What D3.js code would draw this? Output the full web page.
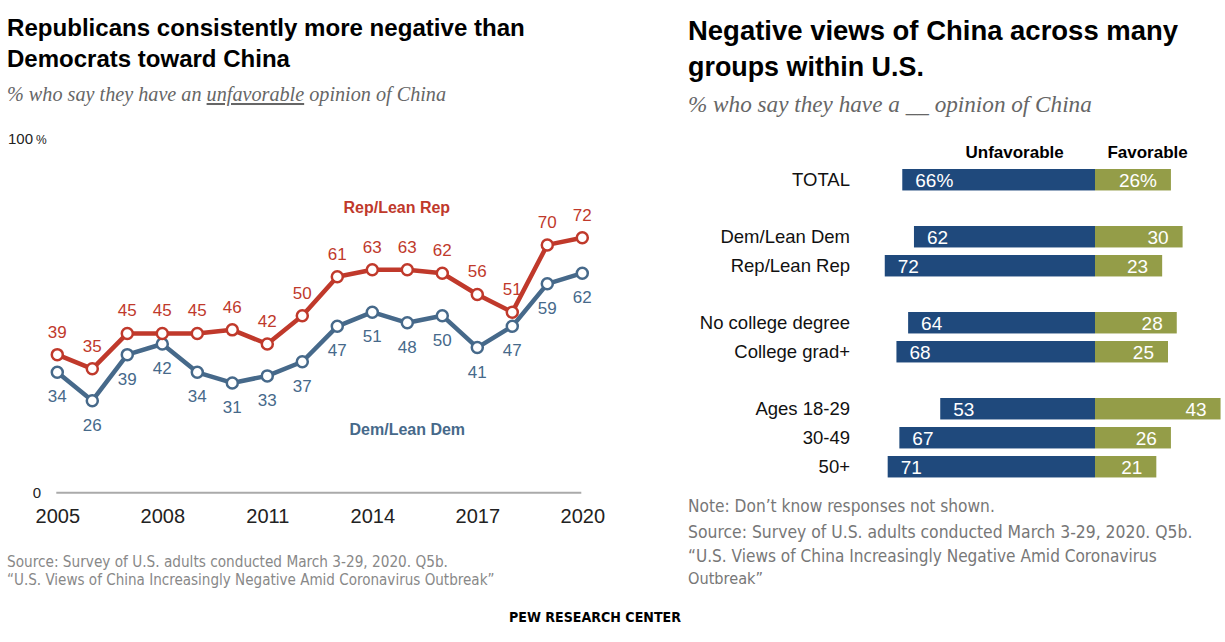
<!DOCTYPE html>
<html>
<head>
<meta charset="utf-8">
<script src="https://cdn.jsdelivr.net/npm/d3@7"></script>
<style>
  body { margin: 0; background: #fff; }
  svg { display: block; }
  text { font-family: "Liberation Sans", Arial, sans-serif; }
  .cond { font-family: "Liberation Sans Narrow", "DejaVu Sans Condensed", "Liberation Sans", sans-serif; }
  .serif { font-family: "Liberation Serif", "DejaVu Serif", serif; font-style: italic; }
</style>
</head>
<body>
<div id="container"></div>
<script>
"use strict"

/* DATA
 */
const years = [2005, 2006, 2007, 2008, 2009, 2010, 2011, 2012,
               2013, 2014, 2015, 2016, 2017, 2018, 2019, 2020];
const repValues = [39, 35, 45, 45, 45, 46, 42, 50, 61, 63, 63, 62, 56, 51, 70, 72];
const demValues = [34, 26, 39, 42, 34, 31, 33, 37, 47, 51, 48, 50, 41, 47, 59, 62];
const yearTicks = [2005, 2008, 2011, 2014, 2017, 2020];

const groups = ["TOTAL", "Dem/Lean Dem", "Rep/Lean Rep", "No college degree",
                "College grad+", "Ages 18-29", "30-49", "50+"];
const groupSet = [0, 1, 1, 2, 2, 3, 3, 3];   // which block each row belongs to
const unfavorable = [66, 62, 72, 64, 68, 53, 67, 71];
const favorable = [26, 30, 23, 28, 25, 43, 26, 21];

const RED = "#c0392b",
    SLATE = "#46698a",
    NAVY = "#1f497c",
    OLIVE = "#949d48";

const W = 1225, H = 642;

const svg = d3.select("#container").append("svg")
    .attr("width", W)
    .attr("height", H);

// scale a text's font size so it spans the width
function fitWidth(sel, w) {
    sel.each(function() {
        const t = d3.select(this);
        const fs = parseFloat(t.attr("font-size"));
        const len = this.getComputedTextLength();
        if (len > 0) t.attr("font-size", (fs * w / len).toFixed(2));
    });
}

function addText(g, x, y, str, opts) {
    const t = g.append("text")
        .attr("x", x)
        .attr("y", y)
        .attr("font-size", opts.size || 14)
        .attr("fill", opts.fill || "#000")
        .text(str);
    if (opts.cls) t.attr("class", opts.cls);
    if (opts.weight) t.attr("font-weight", opts.weight);
    if (opts.anchor) t.attr("text-anchor", opts.anchor);
    if (opts.width) fitWidth(t, opts.width);
    return t;
}

/* LEFT: LINE CHART
 */
const left = svg.append("g");

addText(left, 7, 36, "Republicans consistently more negative than",
        {size: 22, weight: "bold", width: 518});
addText(left, 7, 67, "Democrats toward China",
        {size: 22, weight: "bold", width: 283});

const sub = left.append("text")
    .attr("class", "serif")
    .attr("x", 7)
    .attr("y", 101)
    .attr("font-size", 18)
    .attr("fill", "#666");
sub.append("tspan").text("% who say they have an ");
sub.append("tspan").attr("text-decoration", "underline").text("unfavorable");
sub.append("tspan").text(" opinion of China");
fitWidth(sub, 439);

const x = d3.scaleLinear()
    .domain([2005, 2020])
    .range([57.3, 582.3]);

const y = d3.scaleLinear()
    .domain([0, 100])
    .range([492.7, 138.7]);

// zero baseline
left.append("line")
    .attr("x1", x(2005) - 1)
    .attr("x2", x(2020) - 1)
    .attr("y1", y(0))
    .attr("y2", y(0))
    .attr("stroke", "#aaa")
    .attr("stroke-width", 2);

const xAxis = left.append("g")
    .attr("transform", `translate(0,${y(0)})`)
    .call(d3.axisBottom(x).tickValues(yearTicks).tickSize(0).tickFormat(d3.format("d")));
xAxis.select(".domain").remove();
xAxis.selectAll("text")
    .attr("y", 30)
    .attr("dy", 0)
    .attr("font-size", 20)
    .attr("font-family", "Liberation Sans, Arial, sans-serif")
    .attr("fill", "#222");

const yAxis = left.append("g")
    .attr("transform", "translate(41,0)")
    .call(d3.axisLeft(y).tickValues([0, 100]).tickSize(0).tickPadding(0)
          .tickFormat(d3.format("d")));
yAxis.select(".domain").remove();
yAxis.selectAll("text")
    .attr("font-size", 15)
    .attr("font-family", "Liberation Sans, Arial, sans-serif")
    .attr("fill", "#222")
    .attr("dy", "0.32em");
yAxis.selectAll(".tick").filter((d) => d == 100).select("text")
    .attr("text-anchor", "start")
    .attr("x", -33)
    .append("tspan")
    .attr("font-size", 12)
    .attr("dx", 3)
    .text("%");

const series = [
    {name: "Rep/Lean Rep", values: repValues, color: RED, above: true,
     labelAt: [2014.7, 80.5]},
    {name: "Dem/Lean Dem", values: demValues, color: SLATE, above: false,
     labelAt: [2015, 18]}
];

const line = d3.line()
    .x((d) => x(d.year))
    .y((d) => y(d.value));

series.slice().reverse().forEach((s) => {
    const pts = years.map((yr, i) => ({year: yr, value: s.values[i]}));
    const g = left.append("g");

    g.append("path")
        .attr("d", line(pts))
        .attr("fill", "none")
        .attr("stroke", s.color)
        .attr("stroke-width", 4.5)
        .attr("stroke-linejoin", "round");

    g.selectAll("circle")
        .data(pts)
        .enter().append("circle")
        .attr("cx", (d) => x(d.year))
        .attr("cy", (d) => y(d.value))
        .attr("r", 5.5)
        .attr("fill", "#fff")
        .attr("stroke", s.color)
        .attr("stroke-width", 2.5);

    g.selectAll(".val")
        .data(pts)
        .enter().append("text")
        .attr("class", "val")
        .attr("x", (d) => x(d.year))
        .attr("y", (d) => y(d.value) + (s.above ? -23 : 24))
        .attr("dy", "0.35em")
        .attr("text-anchor", "middle")
        .attr("font-size", 17)
        .attr("fill", s.color)
        .text((d) => d.value);

    g.append("text")
        .attr("x", x(s.labelAt[0]))
        .attr("y", y(s.labelAt[1]))
        .attr("dy", "0.35em")
        .attr("text-anchor", "middle")
        .attr("font-size", 16)
        .attr("font-weight", "bold")
        .attr("fill", s.color)
        .text(s.name);
});

addText(left, 7, 567, "Source: Survey of U.S. adults conducted March 3-29, 2020. Q5b.",
        {size: 14, cls: "cond", fill: "#888", width: 441});
addText(left, 7, 585, "\u201cU.S. Views of China Increasingly Negative Amid Coronavirus Outbreak\u201d",
        {size: 14, cls: "cond", fill: "#888", width: 488});

/* RIGHT: DIVERGING BARS
 */
const right = svg.append("g");

addText(right, 688, 40, "Negative views of China across many",
        {size: 25, weight: "bold", width: 490});
addText(right, 688, 76, "groups within U.S.",
        {size: 25, weight: "bold", width: 236});
addText(right, 688, 112, "% who say they have a __ opinion of China",
        {size: 19, cls: "serif", fill: "#666", width: 404});

const xb = d3.scaleLinear()
    .domain([-100, 100])
    .range([1095 - 292, 1095 + 292]);

const pad = 0.26, step = 29;
const rowY = d3.scaleBand()
    .domain(groups)
    .range([169, 169 + step * (groups.length - pad)])
    .paddingInner(pad)
    .paddingOuter(0);

const rows = groups.map((name, i) => ({
    name: name,
    unfav: unfavorable[i],
    fav: favorable[i],
    top: rowY(name) + groupSet[i] * 28
}));

const bh = rowY.bandwidth();

right.append("text")
    .attr("x", (xb(-66) + xb(0)) / 2 + 16)
    .attr("y", 158)
    .attr("text-anchor", "middle")
    .attr("font-size", 17)
    .attr("font-weight", "bold")
    .text("Unfavorable");
right.append("text")
    .attr("x", (xb(0) + xb(36)) / 2)
    .attr("y", 158)
    .attr("text-anchor", "middle")
    .attr("font-size", 17)
    .attr("font-weight", "bold")
    .text("Favorable");

const row = right.selectAll(".row")
    .data(rows)
    .enter().append("g")
    .attr("class", "row")
    .attr("transform", (d) => `translate(0,${d.top})`);

row.append("rect")
    .attr("x", (d) => xb(-d.unfav))
    .attr("width", (d) => xb(0) - xb(-d.unfav))
    .attr("height", bh)
    .attr("fill", NAVY);

row.append("rect")
    .attr("x", xb(0))
    .attr("width", (d) => xb(d.fav) - xb(0))
    .attr("height", bh)
    .attr("fill", OLIVE);

row.append("text")
    .attr("x", (d) => xb(-d.unfav) + 13)
    .attr("y", bh / 2)
    .attr("dy", "0.36em")
    .attr("font-size", 19)
    .attr("fill", "#fff")
    .text((d, i) => i == 0 ? d.unfav + "%" : d.unfav);

row.append("text")
    .attr("x", (d) => xb(d.fav) - 14)
    .attr("y", bh / 2)
    .attr("dy", "0.36em")
    .attr("text-anchor", "end")
    .attr("font-size", 19)
    .attr("fill", "#fff")
    .text((d, i) => i == 0 ? d.fav + "%" : d.fav);

row.append("text")
    .attr("x", 850)
    .attr("y", bh / 2)
    .attr("dy", "0.36em")
    .attr("text-anchor", "end")
    .attr("font-size", 18.5)
    .attr("fill", "#111")
    .text((d) => d.name);

addText(right, 688, 512, "Note: Don\u2019t know responses not shown.",
        {size: 14, cls: "cond", fill: "#777", width: 307});
addText(right, 688, 538, "Source: Survey of U.S. adults conducted March 3-29, 2020. Q5b.",
        {size: 14, cls: "cond", fill: "#777", width: 505});
addText(right, 688, 562, "\u201cU.S. Views of China Increasingly Negative Amid Coronavirus",
        {size: 14, cls: "cond", fill: "#777", width: 469});
addText(right, 688, 584, "Outbreak\u201d",
        {size: 14, cls: "cond", fill: "#777", width: 75});

/* FOOTER
 */
addText(svg, 595, 622, "PEW RESEARCH CENTER",
        {size: 14, cls: "cond", weight: "bold", anchor: "middle", width: 172});
</script>
</body>
</html>
